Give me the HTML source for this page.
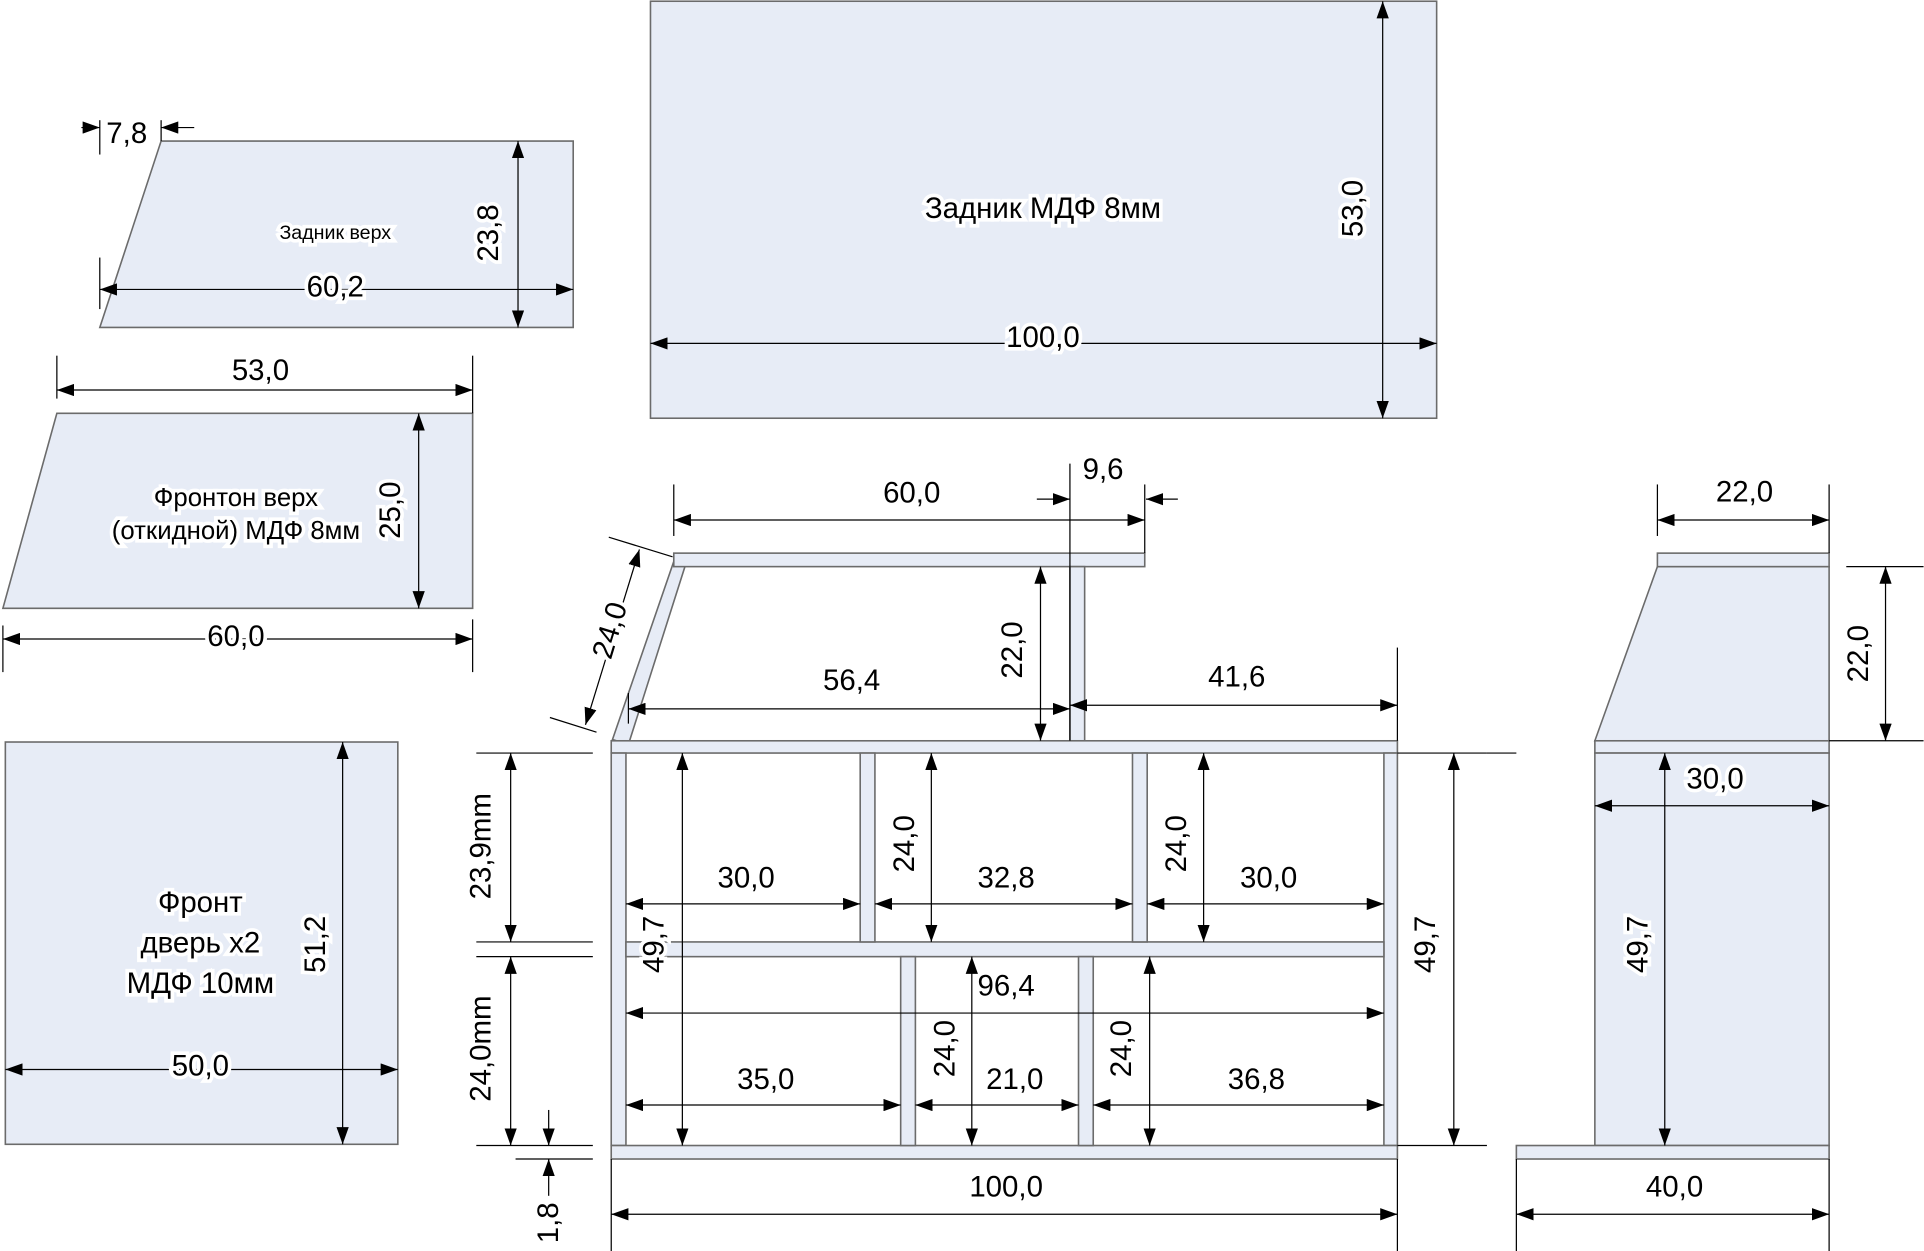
<!DOCTYPE html>
<html><head><meta charset="utf-8"><style>
html,body{margin:0;padding:0;background:#fff;}
svg{display:block}
text{font-family:"Liberation Sans",sans-serif;font-size:24px;fill:#000;text-anchor:middle;dominant-baseline:central;paint-order:stroke;stroke:#fff;stroke-width:6px;}
.p{fill:#e7ecf6;stroke:#6b6b6b;stroke-width:1.3}
.d{stroke:#000;stroke-width:1;marker-start:url(#a);marker-end:url(#a)}
.e{stroke:#000;stroke-width:1}
.o{stroke:#000;stroke-width:1;marker-end:url(#a)}
</style></head><body>
<svg width="1924" height="1251" viewBox="0 0 1568 1020" xmlns="http://www.w3.org/2000/svg">
<defs><marker id="a" viewBox="0 0 14 10" refX="14" refY="5" markerWidth="14" markerHeight="10" markerUnits="userSpaceOnUse" orient="auto-start-reverse"><path d="M0,0L14,5L0,10z" fill="#000"/></marker></defs>

<polygon class="p" points="81,267 131,115 467,115 467,267"/>
<line class="e" x1="81" y1="98" x2="81" y2="126"/><line class="e" x1="131" y1="98" x2="131" y2="115"/>
<line class="e" x1="81" y1="210" x2="81" y2="252"/>
<line class="o" x1="66" y1="104" x2="81" y2="104"/><line class="o" x1="158" y1="104" x2="131" y2="104"/>
<text x="103" y="109">7,8</text>
<line class="d" x1="422" y1="115" x2="422" y2="267"/>
<text transform="translate(398,190) rotate(-90)">23,8</text>
<line class="d" x1="81" y1="236" x2="467" y2="236"/>
<text x="273" y="234">60,2</text>
<text x="273" y="190" style="font-size:16px">Задник верх</text>

<polygon class="p" points="2,496 46,337 385,337 385,496"/>
<line class="e" x1="46" y1="290" x2="46" y2="325"/><line class="e" x1="385" y1="290" x2="385" y2="337"/>
<line class="d" x1="46" y1="318" x2="385" y2="318"/>
<text x="212" y="302">53,0</text>
<line class="d" x1="341" y1="337" x2="341" y2="496"/>
<text transform="translate(318,416) rotate(-90)">25,0</text>
<text x="192" y="406" style="font-size:21px">Фронтон верх</text>
<text x="192" y="433" style="font-size:21px">(откидной) МДФ 8мм</text>
<line class="e" x1="2" y1="510" x2="2" y2="548"/><line class="e" x1="385" y1="505" x2="385" y2="548"/>
<line class="d" x1="2" y1="521" x2="385" y2="521"/>
<text x="192" y="519">60,0</text>

<rect class="p" x="4" y="605" width="320" height="328"/>
<text x="163" y="736">Фронт</text>
<text x="163" y="769">дверь х2</text>
<text x="163" y="802">МДФ 10мм</text>
<line class="d" x1="279" y1="605" x2="279" y2="933"/>
<text transform="translate(257,770) rotate(-90)">51,2</text>
<line class="d" x1="4" y1="872" x2="324" y2="872"/>
<text x="163" y="869">50,0</text>

<rect class="p" x="530" y="1" width="641" height="340"/>
<text x="850" y="170">Задник МДФ 8мм</text>
<line class="d" x1="1127" y1="1" x2="1127" y2="341"/>
<text transform="translate(1103,170) rotate(-90)">53,0</text>
<line class="d" x1="530" y1="280" x2="1171" y2="280"/>
<text x="850" y="275">100,0</text>

<polygon class="p" points="551,452 560,456 512,607 499,603"/>
<rect class="p" x="549" y="451" width="384" height="11"/>
<rect class="p" x="872" y="462" width="12" height="142"/>
<rect class="p" x="498" y="604" width="641" height="10"/>
<rect class="p" x="498" y="614" width="12" height="320"/>
<rect class="p" x="1128" y="614" width="11" height="320"/>
<rect class="p" x="498" y="934" width="641" height="11"/>
<rect class="p" x="510" y="768" width="618" height="12"/>
<rect class="p" x="701" y="614" width="12" height="154"/>
<rect class="p" x="923" y="614" width="12" height="154"/>
<rect class="p" x="734" y="780" width="12" height="154"/>
<rect class="p" x="879" y="780" width="12" height="154"/>

<line class="e" x1="549" y1="395" x2="549" y2="437"/><line class="e" x1="933" y1="395" x2="933" y2="451"/>
<line class="d" x1="549" y1="424" x2="933" y2="424"/>
<text x="743" y="402">60,0</text>
<line class="e" x1="872" y1="378" x2="872" y2="604"/>
<line class="o" x1="845" y1="407" x2="872" y2="407"/><line class="o" x1="960" y1="407" x2="934" y2="407"/>
<text x="899" y="383">9,6</text>
<line class="e" x1="448" y1="585" x2="486" y2="597"/><line class="e" x1="496" y1="438" x2="548" y2="454"/>
<line class="d" x1="477" y1="591" x2="521" y2="448"/>
<text transform="translate(497,514) rotate(-73)">24,0</text>
<line class="e" x1="512" y1="565" x2="512" y2="590"/>
<line class="d" x1="512" y1="578" x2="872" y2="578"/>
<text x="694" y="555">56,4</text>
<line class="d" x1="848" y1="462" x2="848" y2="604"/>
<text transform="translate(825,530) rotate(-90)">22,0</text>
<line class="e" x1="1139" y1="528" x2="1139" y2="604"/>
<line class="d" x1="872" y1="575" x2="1139" y2="575"/>
<text x="1008" y="552">41,6</text>

<line class="e" x1="388" y1="614" x2="483" y2="614"/>
<line class="e" x1="388" y1="768" x2="483" y2="768"/>
<line class="e" x1="388" y1="780" x2="483" y2="780"/>
<line class="e" x1="388" y1="934" x2="483" y2="934"/>
<line class="e" x1="420" y1="945" x2="483" y2="945"/>
<line class="d" x1="416" y1="614" x2="416" y2="768"/>
<text transform="translate(392,690) rotate(-90)">23,9mm</text>
<line class="d" x1="416" y1="780" x2="416" y2="934"/>
<text transform="translate(392,855) rotate(-90)">24,0mm</text>
<line class="o" x1="447" y1="905" x2="447" y2="934"/>
<line class="o" x1="447" y1="975" x2="447" y2="945"/>
<text transform="translate(447,997) rotate(-90)">1,8</text>

<line class="d" x1="556" y1="614" x2="556" y2="934"/>
<text transform="translate(533,770) rotate(-90)">49,7</text>
<line class="d" x1="510" y1="737" x2="701" y2="737"/><text x="608" y="716">30,0</text>
<line class="d" x1="759" y1="614" x2="759" y2="768"/><text transform="translate(737,688) rotate(-90)">24,0</text>
<line class="d" x1="713" y1="737" x2="923" y2="737"/><text x="820" y="716">32,8</text>
<line class="d" x1="981" y1="614" x2="981" y2="768"/><text transform="translate(959,688) rotate(-90)">24,0</text>
<line class="d" x1="935" y1="737" x2="1128" y2="737"/><text x="1034" y="716">30,0</text>
<line class="d" x1="510" y1="826" x2="1128" y2="826"/><text x="820" y="804">96,4</text>
<line class="d" x1="510" y1="901" x2="734" y2="901"/><text x="624" y="880">35,0</text>
<line class="d" x1="792" y1="780" x2="792" y2="934"/><text transform="translate(770,855) rotate(-90)">24,0</text>
<line class="d" x1="746" y1="901" x2="879" y2="901"/><text x="827" y="880">21,0</text>
<line class="d" x1="937" y1="780" x2="937" y2="934"/><text transform="translate(914,855) rotate(-90)">24,0</text>
<line class="d" x1="891" y1="901" x2="1128" y2="901"/><text x="1024" y="880">36,8</text>

<line class="e" x1="1139" y1="614" x2="1212" y2="614"/>
<line class="e" x1="1139" y1="934" x2="1212" y2="934"/>
<line class="d" x1="1185" y1="614" x2="1185" y2="934"/>
<text transform="translate(1162,770) rotate(-90)">49,7</text>
<line class="e" x1="498" y1="945" x2="498" y2="1020"/><line class="e" x1="1139" y1="945" x2="1139" y2="1020"/>
<line class="d" x1="498" y1="990" x2="1139" y2="990"/>
<text x="820" y="968">100,0</text>

<polygon class="p" points="1351,462 1491,462 1491,604 1300,604"/>
<rect class="p" x="1351" y="451" width="140" height="11"/>
<rect class="p" x="1300" y="604" width="191" height="10"/>
<rect class="p" x="1300" y="614" width="191" height="320"/>
<rect class="p" x="1236" y="934" width="255" height="11"/>
<line class="e" x1="1351" y1="395" x2="1351" y2="437"/><line class="e" x1="1491" y1="395" x2="1491" y2="451"/>
<line class="d" x1="1351" y1="424" x2="1491" y2="424"/>
<text x="1422" y="401">22,0</text>
<line class="e" x1="1505" y1="462" x2="1568" y2="462"/><line class="e" x1="1491" y1="604" x2="1568" y2="604"/>
<line class="d" x1="1537" y1="462" x2="1537" y2="604"/>
<text transform="translate(1515,533) rotate(-90)">22,0</text>
<line class="e" x1="1212" y1="614" x2="1236" y2="614"/>
<line class="d" x1="1300" y1="657" x2="1491" y2="657"/>
<text x="1398" y="635">30,0</text>
<line class="d" x1="1357" y1="614" x2="1357" y2="934"/>
<text transform="translate(1335,770) rotate(-90)">49,7</text>
<line class="e" x1="1236" y1="945" x2="1236" y2="1020"/><line class="e" x1="1491" y1="945" x2="1491" y2="1020"/>
<line class="d" x1="1236" y1="990" x2="1491" y2="990"/>
<text x="1365" y="968">40,0</text>
</svg>
</body></html>
